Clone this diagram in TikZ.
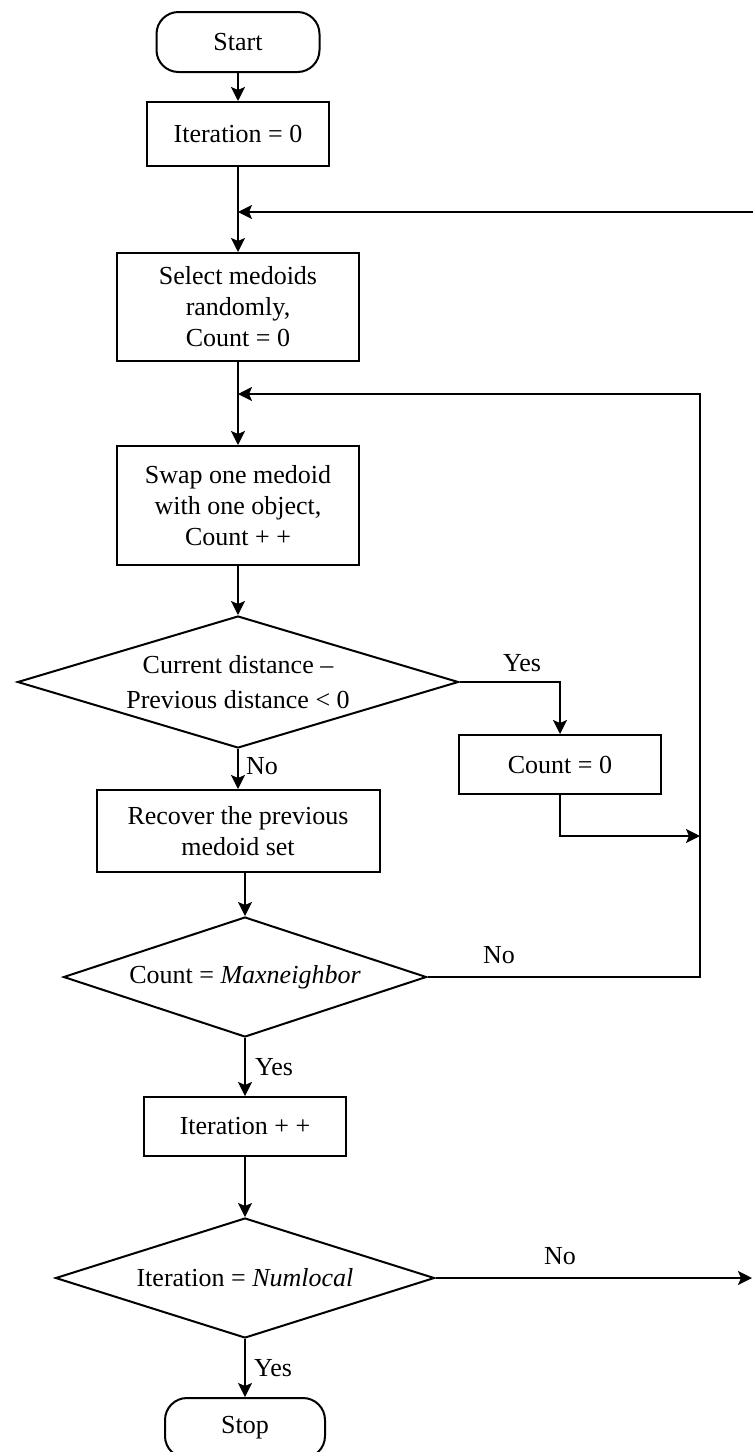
\documentclass[tikz,border=0pt]{standalone}
\usepackage{fontspec}
\setmainfont{Liberation Serif}
\usetikzlibrary{shapes.geometric,arrows.meta}
\tikzset{
  flowline/.style={line width=2pt},
  arrowline/.style={flowline,-{Stealth[length=14pt,width=14pt,inset=3pt]}},
  procbox/.style={draw,line width=2pt,rectangle,inner sep=0pt,align=center,
    font=\fontsize{26}{31}\selectfont},
  termbox/.style={procbox,rounded corners=22pt},
  decbox/.style={draw,line width=2pt,diamond,inner sep=0pt,align=center,
    font=\fontsize{26}{35}\selectfont},
  lbl/.style={inner sep=0pt,font=\fontsize{26}{31}\selectfont},
}
\begin{document}
\begin{tikzpicture}[x=1pt,y=-1pt]
\useasboundingbox (0,0) rectangle (753,1452);

% main column of steps
\node[termbox,minimum width=163pt,minimum height=60pt] (start) at (238,42) {Start};
\node[procbox,minimum width=182pt,minimum height=64pt] (it0) at (238,134) {Iteration = 0};
\node[procbox,minimum width=242pt,minimum height=108pt] (sel) at (238,307) {Select medoids\\randomly,\\Count = 0};
\node[procbox,minimum width=242pt,minimum height=119pt] (swap) at (238,505.5) {Swap one medoid\\with one object,\\Count + +};
\node[decbox,minimum width=441pt,minimum height=132pt,aspect=3.34] (d1) at (238,682) {Current distance –\\Previous distance < 0};
\node[procbox,minimum width=202pt,minimum height=59pt] (cnt) at (560,764.5) {Count = 0};
\node[procbox,minimum width=283pt,minimum height=82pt] (rec) at (238,831) {Recover the previous\\medoid set};
\node[decbox,minimum width=363pt,minimum height=120pt,aspect=3.03] (d2) at (245,977) {Count = \textit{Maxneighbor}};
\node[procbox,minimum width=202pt,minimum height=59pt] (itp) at (245,1126.5) {Iteration + +};
\node[decbox,minimum width=379pt,minimum height=120pt,aspect=3.16] (d3) at (245,1278) {Iteration = \textit{Numlocal}};
\node[termbox,minimum width=160pt,minimum height=60pt] (stop) at (245,1428) {Stop};

% branch labels
\node[lbl] (yes1) at (522,663) {Yes};
\node[lbl] (no1) at (262,766) {No};
\node[lbl] (no2) at (499,955) {No};
\node[lbl] (yes2) at (274,1067) {Yes};
\node[lbl] (no3) at (560,1256) {No};
\node[lbl] (yes3) at (273,1368) {Yes};

% loose ends of the outer loops
\coordinate (entry) at (753,212);
\coordinate (loop) at (700,394);
\coordinate (join) at (700,836);
\coordinate (exit) at (752,1278);

% connectors
\draw[arrowline] (start) -- (it0);
\draw[arrowline] (it0) -- (sel);
\draw[arrowline] (entry) -- (entry -| sel.north);
\draw[arrowline] (sel) -- (swap);
\draw[arrowline] (d2.east) -- (loop |- d2.east) -- (loop) -- (loop -| swap.north);
\draw[arrowline] (swap) -- (d1);
\draw[arrowline] (d1.east) -| (cnt.north);
\draw[arrowline] (cnt.south) |- (join);
\draw[arrowline] (d1.south) -- (rec.north);
\draw[arrowline] (rec.south -| d2.north) -- (d2.north);
\draw[arrowline] (d2.south) -- (itp.north);
\draw[arrowline] (itp.south) -- (d3.north);
\draw[arrowline] (d3.east) -- (exit);
\draw[arrowline] (d3.south) -- (stop.north);
\end{tikzpicture}
\end{document}
